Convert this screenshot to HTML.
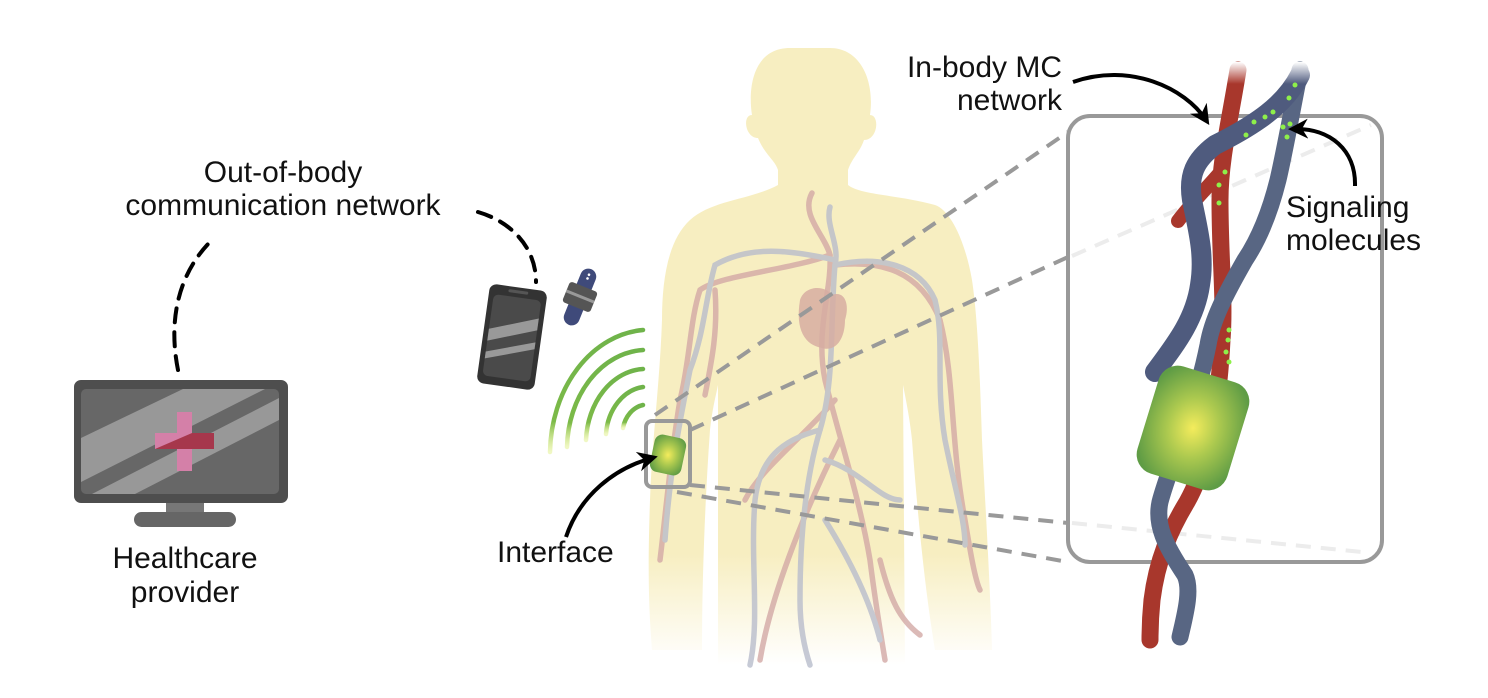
<!DOCTYPE html>
<html><head><meta charset="utf-8">
<style>
html,body{margin:0;padding:0;background:#fff;}
svg{display:block;}
text{font-family:"Liberation Sans","DejaVu Sans",sans-serif;fill:#111;font-size:30px;}
</style></head>
<body>
<svg width="1488" height="698" viewBox="0 0 1488 698" xmlns="http://www.w3.org/2000/svg">
<defs>
  <linearGradient id="bodyfade" x1="0" y1="0" x2="0" y2="1">
    <stop offset="0.82" stop-color="#f7eec1" stop-opacity="1"/>
    <stop offset="1" stop-color="#f7eec1" stop-opacity="0"/>
  </linearGradient>
  <linearGradient id="wave" x1="0" y1="0" x2="0" y2="1">
    <stop offset="0" stop-color="#6fb34a"/>
    <stop offset="0.75" stop-color="#7cba48"/>
    <stop offset="1" stop-color="#d9ec6a" stop-opacity="0.4"/>
  </linearGradient>
  <radialGradient id="chip" cx="0.5" cy="0.5" r="0.6">
    <stop offset="0" stop-color="#f4ec5c"/>
    <stop offset="0.45" stop-color="#acc94f"/>
    <stop offset="1" stop-color="#5f9c45"/>
  </radialGradient>
  <linearGradient id="vfadeTop" x1="0" y1="0" x2="0" y2="1">
    <stop offset="0" stop-color="#fff" stop-opacity="1"/>
    <stop offset="1" stop-color="#fff" stop-opacity="0"/>
  </linearGradient>
  <clipPath id="scr"><rect x="81" y="389" width="198" height="105" rx="5"/></clipPath>
  <marker id="ah" viewBox="0 0 10 10" refX="7" refY="5" markerWidth="5" markerHeight="5" orient="auto">
    <path d="M0,0 L10,5 L0,10 L3,5 Z" fill="#000"/>
  </marker>
</defs>

<!-- Monitor -->
<rect x="74" y="380" width="214" height="123" rx="7" fill="#4e4e4e"/>
<rect x="81" y="389" width="198" height="105" rx="5" fill="#676767"/>
<g clip-path="url(#scr)">
  <polygon points="81,438 183,389 265,389 81,482" fill="#989898"/>
  <polygon points="92,494 279,398 279,420 135,494" fill="#989898"/>
</g>
<rect x="177" y="412" width="15" height="59" fill="#d480a8"/>
<rect x="155" y="433" width="59" height="16" fill="#d480a8"/>
<polygon points="155,449 214,449 214,433 192,433 155,449" fill="#9e2a3c" opacity="0.85"/>
<rect x="166" y="503" width="38" height="10" fill="#777"/>
<rect x="134" y="512" width="102" height="15" rx="7.5" fill="#666"/>

<!-- Texts left -->
<text x="283" y="182" text-anchor="middle">Out-of-body</text>
<text x="283" y="215" text-anchor="middle">communication network</text>
<text x="185" y="568" text-anchor="middle">Healthcare</text>
<text x="185" y="602" text-anchor="middle">provider</text>

<!-- dashed black links -->
<path d="M178,370 C168,320 178,272 214,238" fill="none" stroke="#000" stroke-width="4" stroke-dasharray="14 10" stroke-linecap="round"/>
<path d="M478,212 C512,222 536,248 536,282" fill="none" stroke="#000" stroke-width="4" stroke-dasharray="14 10" stroke-linecap="round"/>

<!-- Phone -->
<g transform="translate(512,337) rotate(8)">
  <rect x="-29" y="-50" width="58" height="100" rx="7" fill="#333"/>
  <rect x="-24" y="-40" width="48" height="82" rx="5" fill="#4a4a4a"/>
  <rect x="-10" y="-47" width="20" height="3" rx="1.5" fill="#555"/>
  <polygon points="-24,-5 24,-22 24,-10 -24,7" fill="#999"/>
  <polygon points="-24,18 24,2 24,9 -24,25" fill="#999"/>
</g>
<!-- Watch -->
<g transform="translate(580,297) rotate(22)">
  <rect x="-8" y="-30" width="16" height="60" rx="8" fill="#3f4a7a"/>
  <rect x="-15" y="-11" width="30" height="22" rx="3" fill="#555"/>
  <rect x="-15" y="-2" width="30" height="3" fill="#999"/>
  <circle cx="0" cy="-24" r="1.3" fill="#fff"/><circle cx="0" cy="-20" r="1.3" fill="#fff"/>
</g>

<!-- Waves -->
<g fill="none" stroke="url(#wave)" stroke-width="4.5" stroke-linecap="round">
  <path d="M643,330 A100 125 0 0 0 550,452"/>
  <path d="M643,350 A80 100 0 0 0 567,447"/>
  <path d="M643,369 A60 75 0 0 0 586,440"/>
  <path d="M643,387 A42 52 0 0 0 606,434"/>
  <path d="M643,405 A25 30 0 0 0 623,428"/>
</g>

<!-- Body -->
<path d="M790,48 C752,48 748,90 752,115 C742,115 745,138 758,138 C765,155 775,160 778,170 L778,185 C750,200 712,200 690,220 C668,240 662,280 662,320 C660,380 652,440 650,500 C648,560 648,600 652,650 L702,650 C702,580 705,500 710,430 C712,410 716,395 718,385 L718,665 L905,665 L903,385 C906,400 910,420 912,440 C918,520 925,590 935,650 L992,650 C990,580 985,500 982,440 C980,380 978,320 972,280 C965,240 950,210 935,205 C900,195 860,195 848,185 L848,170 C852,158 860,152 864,140 C878,140 880,115 870,115 C875,80 860,48 830,48 Z" fill="url(#bodyfade)"/>

<!-- body vessels -->
<g fill="none" stroke-width="5.5" stroke-linecap="round" opacity="0.8">
  <g stroke="#d3a9a6">
    <path d="M812,193 C800,215 825,235 830,255 C832,290 815,330 825,380 C840,440 860,500 870,560 C875,600 880,630 885,660"/>
    <path d="M830,255 C790,270 720,275 700,290 C690,320 690,360 680,400 C670,460 665,520 660,560"/>
    <path d="M835,265 C880,260 920,270 940,320 C955,380 950,440 965,520 C970,550 975,580 980,590"/>
    <path d="M835,400 C800,440 760,470 745,500"/>
    <path d="M840,440 C800,520 770,600 760,660"/>
    <path d="M880,560 C890,600 900,620 920,635"/>
    <path d="M715,290 C718,330 712,360 705,395"/>
  </g>
  <g stroke="#b9bdcc">
    <path d="M830,207 C825,225 840,245 835,265 C830,320 835,380 820,430 C805,480 800,540 800,600 C800,630 805,650 810,665"/>
    <path d="M835,260 C790,250 750,245 715,265 C705,300 705,330 690,370 C680,420 670,470 665,540"/>
    <path d="M835,265 C880,255 920,265 935,300 C945,340 935,380 945,440 C955,490 965,520 965,545"/>
    <path d="M820,430 C780,440 760,460 755,500 C750,560 760,620 750,665"/>
    <path d="M825,460 C860,470 880,500 900,500"/>
    <path d="M825,520 C850,560 870,600 880,640"/>
  </g>
  <path d="M800,300 C805,285 825,285 832,295 C845,290 850,305 845,320 C845,340 835,352 822,348 C805,345 795,330 800,300 Z" fill="#cf9d9a" stroke="none" opacity="0.85"/>
</g>

<!-- gray dashed zoom lines -->
<g fill="none" stroke="#999" stroke-width="4" stroke-dasharray="15 10">
  <path d="M655,415 L1068,132"/>
  <path d="M690,430 L1068,257"/>
  <path d="M690,485 L1068,523"/>
  <path d="M677,492 L1068,562"/>
</g>
<g fill="none" stroke="#ececec" stroke-width="4" stroke-dasharray="15 10">
  <path d="M1072,256 L1371,125"/>
  <path d="M1072,523 L1362,552"/>
</g>

<!-- Interface -->
<rect x="646" y="421" width="44" height="66" rx="6" fill="none" stroke="#999" stroke-width="4"/>
<g transform="translate(668,455) rotate(12)">
  <rect x="-16" y="-19" width="32" height="38" rx="8" fill="url(#chip)"/>
</g>
<path d="M566,537 C580,495 615,468 652,458" fill="none" stroke="#000" stroke-width="4" marker-end="url(#ah)"/>
<text x="497" y="562">Interface</text>

<!-- Right panel -->
<rect x="1068" y="116" width="314" height="446" rx="22" fill="none" stroke="#999" stroke-width="4"/>

<g fill="none" stroke-linecap="round">
  <path d="M1238,70 C1230,120 1220,160 1220,200 C1220,260 1225,300 1222,340 C1218,420 1205,470 1187,502 C1170,530 1157,560 1152,600 C1150,620 1150,630 1150,640" stroke="#a8372c" stroke-width="17"/>
  <path d="M1178,221 C1190,205 1205,190 1218,175" stroke="#a8372c" stroke-width="14"/>
  <path d="M1300,70 C1292,110 1285,150 1278,180 C1268,220 1255,245 1245,260 C1225,295 1212,320 1208,345 C1195,410 1168,470 1160,502 C1155,525 1165,545 1185,575 C1192,590 1185,615 1180,637" stroke="#586683" stroke-width="17"/>
  <path d="M1300,75 C1285,105 1255,125 1215,145 C1195,160 1188,175 1192,200 C1198,230 1205,255 1200,285 C1195,320 1175,345 1155,372" stroke="#4f5b7e" stroke-width="20"/>
</g>
<rect x="1215" y="62" width="100" height="22" fill="url(#vfadeTop)"/>

<g fill="#8ef04a">
  <circle cx="1295" cy="85" r="2.5"/><circle cx="1289" cy="98" r="2.5"/>
  <circle cx="1273" cy="112" r="2.5"/><circle cx="1265" cy="117" r="2.5"/><circle cx="1254" cy="122" r="2.5"/>
  <circle cx="1283" cy="127" r="2.5"/><circle cx="1290" cy="124" r="2.5"/><circle cx="1287" cy="137" r="2.5"/>
  <circle cx="1246" cy="135" r="2.5"/>
  <circle cx="1225" cy="172" r="2.5"/><circle cx="1219" cy="185" r="2.5"/><circle cx="1219" cy="203" r="2.5"/>
  <circle cx="1229" cy="330" r="2.5"/><circle cx="1228" cy="340" r="2.5"/><circle cx="1226" cy="352" r="2.5"/><circle cx="1229" cy="362" r="2.5"/>
</g>

<g transform="translate(1193,428) rotate(17)">
  <rect x="-47" y="-56" width="94" height="112" rx="20" fill="url(#chip)"/>
</g>

<path d="M1073,82 C1130,62 1185,88 1206,120" fill="none" stroke="#000" stroke-width="4" marker-end="url(#ah)"/>
<path d="M1355,186 C1356,150 1330,128 1294,129" fill="none" stroke="#000" stroke-width="4" marker-end="url(#ah)"/>

<text x="1062" y="77" text-anchor="end">In-body MC</text>
<text x="1062" y="110" text-anchor="end">network</text>
<text x="1286" y="217">Signaling</text>
<text x="1286" y="250">molecules</text>
</svg>
</body></html>
